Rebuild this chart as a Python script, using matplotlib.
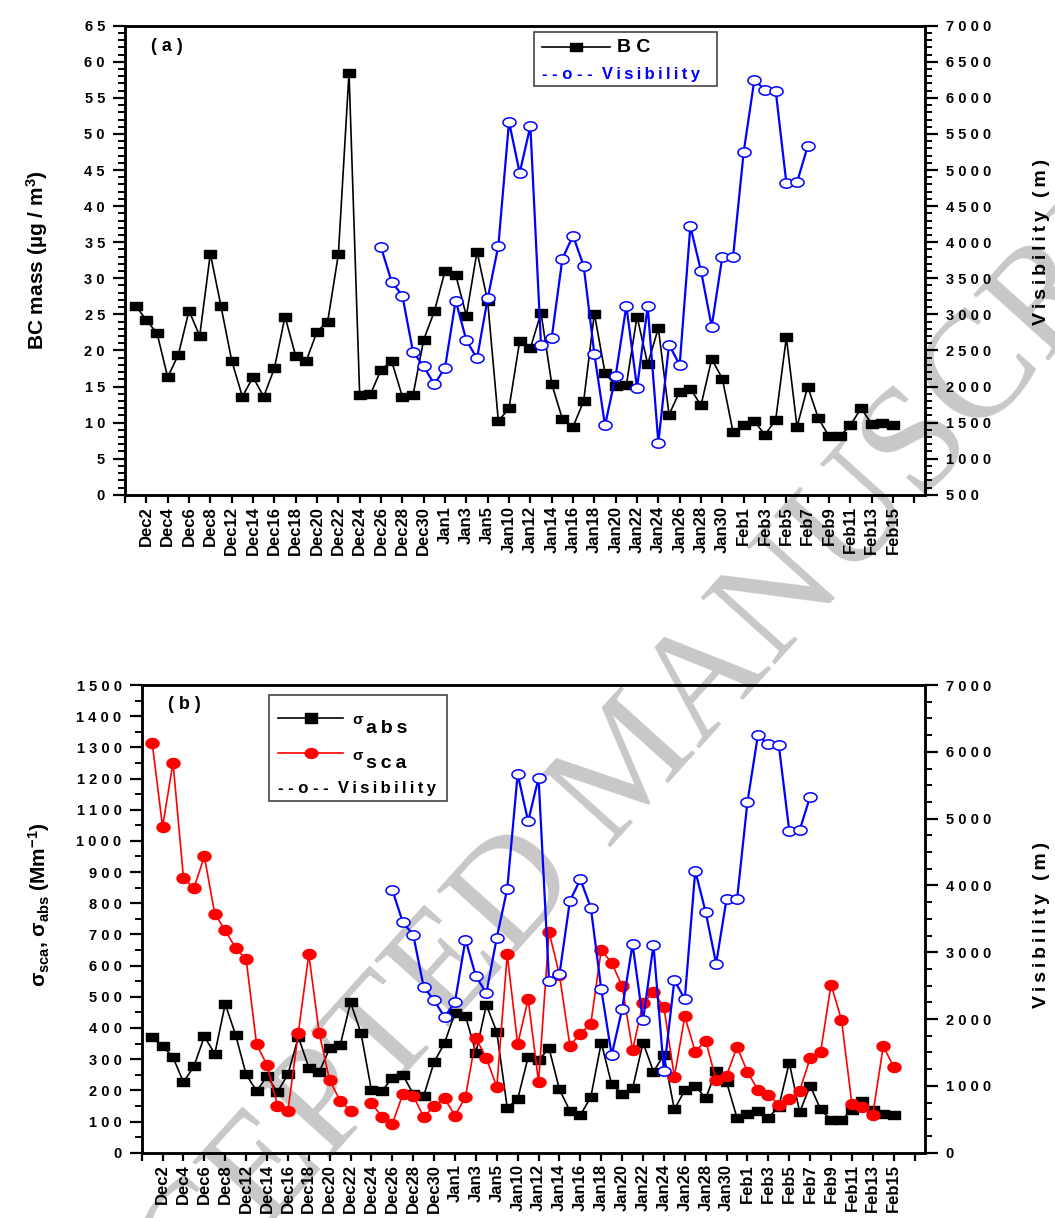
import numpy as np
import matplotlib
matplotlib.use('Agg')
import matplotlib.pyplot as plt
from matplotlib.path import Path
from matplotlib.ticker import MultipleLocator, FuncFormatter
from matplotlib.lines import Line2D
from matplotlib.patches import Rectangle

plt.rcParams['font.family'] = ['Liberation Sans', 'DejaVu Sans']
plt.rcParams['font.weight'] = 'bold'
plt.rcParams['mathtext.fontset'] = 'custom'
plt.rcParams['mathtext.rm'] = 'Liberation Sans:bold'
plt.rcParams['mathtext.it'] = 'Liberation Sans:bold'
plt.rcParams['mathtext.bf'] = 'Liberation Sans:bold'
plt.rcParams['mathtext.sf'] = 'Liberation Sans:bold'

nan = np.nan

# ---------------- data ----------------
date_labels = ['Dec2', 'Dec4', 'Dec6', 'Dec8', 'Dec12', 'Dec14', 'Dec16', 'Dec18',
               'Dec20', 'Dec22', 'Dec24', 'Dec26', 'Dec28', 'Dec30', 'Jan1', 'Jan3',
               'Jan5', 'Jan10', 'Jan12', 'Jan14', 'Jan16', 'Jan18', 'Jan20', 'Jan22',
               'Jan24', 'Jan26', 'Jan28', 'Jan30', 'Feb1', 'Feb3', 'Feb5', 'Feb7',
               'Feb9', 'Feb11', 'Feb13', 'Feb15']

bc_mass = [26.2, 24.2, 22.4, 16.3, 19.4, 25.5, 22.0, 33.4, 26.1, 18.6,
           13.6, 16.3, 13.6, 17.5, 24.7, 19.2, 18.6, 22.6, 24.0, 33.3,
           58.5, 13.8, 13.9, 17.3, 18.5, 13.6, 13.8, 21.5, 25.4, 31.0,
           30.5, 24.8, 33.7, 26.8, 10.2, 12.0, 21.3, 20.3, 25.2, 15.4,
           10.5, 9.4, 13.0, 25.1, 16.9, 15.1, 15.2, 24.7, 18.1, 23.1,
           11.1, 14.3, 14.7, 12.4, 18.8, 16.1, 8.7, 9.6, 10.2, 8.3,
           10.4, 21.8, 9.4, 15.0, 10.6, 8.1, 8.1, 9.6, 12.0, 9.8,
           10.0, 9.6]

visibility = [nan, nan, nan, nan, nan, nan, nan, nan, nan, nan,
              nan, nan, nan, nan, nan, nan, nan, nan, nan, nan,
              nan, nan, nan, 3930, 3450, 3260, 2480, 2280, 2030, 2260,
              3190, 2640, 2390, 3220, 3950, 5670, 4960, 5610, 2570, 2670,
              3770, 4090, 3670, 2450, 1460, 2150, 3120, 1980, 3110, 1220,
              2580, 2300, 4220, 3600, 2830, 3800, 3790, 5250, 6250, 6110,
              6100, 4820, 4830, 5330, nan, nan, nan, nan, nan, nan,
              nan, nan]

sigma_abs = [370, 342, 306, 226, 277, 373, 317, 477, 377, 251,
             198, 245, 195, 251, 371, 273, 259, 335, 344, 482,
             383, 200, 197, 241, 250, 188, 182, 291, 352, 449,
             439, 321, 474, 387, 144, 172, 306, 297, 335, 203,
             134, 121, 178, 353, 219, 189, 206, 353, 260, 314,
             139, 200, 215, 174, 263, 226, 112, 123, 134, 112,
             148, 289, 130, 215, 139, 105, 105, 137, 166, 137,
             125, 122]

sigma_sca = [1315, 1045, 1251, 882, 848, 951, 765, 714, 655, 621,
             348, 281, 151, 134, 385, 637, 383, 232, 167, 134,
             nan, 159, 115, 93, 187, 183, 114, 149, 174, 119,
             179, 368, 303, 211, 636, 348, 493, 227, 709, 570,
             343, 382, 414, 650, 609, 534, 329, 480, 515, 467,
             243, 437, 324, 359, 233, 247, 340, 259, 202, 186,
             154, 173, 199, 303, 322, 539, 427, 156, 146, 122,
             342, 275]

# ---------------- styling helpers ----------------
BLUE = '#0000ff'
RED = '#ff0000'
THIN = '\u2009'
rect_marker = Path([(-1.35, -1), (1.35, -1), (1.35, 1), (-1.35, 1), (-1.35, -1)],
                   [Path.MOVETO, Path.LINETO, Path.LINETO, Path.LINETO, Path.CLOSEPOLY])
th = np.linspace(0, 2 * np.pi, 60)
ell_marker = Path(np.column_stack([1.4 * np.cos(th), np.sin(th)]), closed=True)
ell_marker2 = Path(np.column_stack([1.3 * np.cos(th), np.sin(th)]), closed=True)


def spaced(v, p):
    return ' '.join(f'{v:.0f}')


def tracked(s):
    return THIN.join(s)


x = np.arange(len(bc_mass))
tick_pos = np.arange(-1, len(bc_mass) + 2, 2)
tick_lab = [''] + date_labels + ['']

fig = plt.figure(figsize=(10.55, 12.18), dpi=100)

# watermark (behind data)
fig.text(0.600, 0.370, 'ACCEPTED MANUSCRIPT', rotation=48, fontsize=110,
         family='Liberation Serif', weight='normal', color='#c8c8c8',
         ha='center', va='center', zorder=-5)


def style_axes(ax, twin):
    for a in (ax, twin):
        a.patch.set_visible(False)
        for s in a.spines.values():
            s.set_linewidth(1.8)
    ax.set_xlim(-1, 74)
    ax.set_xticks(tick_pos)
    ax.set_xticklabels(tick_lab, rotation=90, fontsize=12, fontweight='bold')
    ax.tick_params(axis='x', direction='out', length=6, width=1.6, pad=2)
    ax.tick_params(axis='y', which='major', direction='out', length=8.5, width=1.6,
                   pad=6, labelsize=10.5)
    ax.tick_params(axis='y', which='minor', direction='out', length=5, width=1.4)
    twin.tick_params(axis='y', which='major', direction='out', length=9, width=1.6,
                     pad=6, labelsize=10.5)
    twin.tick_params(axis='y', which='minor', direction='out', length=5, width=1.4)
    ax.yaxis.set_major_formatter(FuncFormatter(spaced))
    twin.yaxis.set_major_formatter(FuncFormatter(spaced))
    for lab in ax.get_yticklabels() + twin.get_yticklabels():
        lab.set_fontweight('bold')


# ---------------- panel (a) ----------------
axA = fig.add_axes([0.1185, 0.5938, 0.7583, 0.3851])
axA2 = axA.twinx()
style_axes(axA, axA2)
axA.set_ylim(0, 65)
axA.yaxis.set_major_locator(MultipleLocator(5))
axA.yaxis.set_minor_locator(MultipleLocator(1))
axA2.set_ylim(500, 7000)
axA2.yaxis.set_major_locator(MultipleLocator(500))
axA2.yaxis.set_minor_locator(MultipleLocator(100))

axA.plot(x, bc_mass, color='black', lw=1.2, marker=rect_marker, ms=8.6,
         mfc='black', mec='black', zorder=3)
axA2.plot(x, visibility, color=BLUE, lw=1.6, marker=ell_marker, ms=9.4,
          mfc='white', mec=BLUE, mew=1.1, zorder=3)

axA.set_ylabel('BC mass (µg / m$^{3}$)', fontsize=15, fontweight='bold')
axA.yaxis.set_label_coords(-0.094, 0.5)
axA2.set_ylabel(tracked('Visibility (m)'), fontsize=14, fontweight='bold')
axA2.yaxis.set_label_coords(1.135, 0.539)

axA.text(0.033, 0.955, '( a )', transform=axA.transAxes, fontsize=13,
         fontweight='bold', va='center', ha='left')

# legend (a)
axA.add_patch(Rectangle((0.511, 0.872), 0.229, 0.115, transform=axA.transAxes,
                        fill=False, ec='#444444', lw=1.2, zorder=5))
axA.add_line(Line2D([0.5216, 0.606], [0.954, 0.954], transform=axA.transAxes,
                    color='black', lw=1.2, zorder=6))
axA.add_line(Line2D([0.564], [0.954], transform=axA.transAxes, marker=rect_marker,
                    ms=8.6, color='black', zorder=6))
axA.text(0.6146, 0.954, 'B C', transform=axA.transAxes, fontsize=14,
         fontweight='bold', va='center', ha='left', zorder=6)
axA.text(0.521, 0.897, '- - o - -  ' + tracked('Visibility'), transform=axA.transAxes,
         fontsize=12, fontweight='bold', color=BLUE, va='center', ha='left', zorder=6)

# ---------------- panel (b) ----------------
axB = fig.add_axes([0.1343, 0.0536, 0.7425, 0.3840])
axB2 = axB.twinx()
style_axes(axB, axB2)
axB.set_ylim(0, 1500)
axB.yaxis.set_major_locator(MultipleLocator(100))
axB.yaxis.set_minor_locator(MultipleLocator(50))
axB2.set_ylim(0, 7000)
axB2.yaxis.set_major_locator(MultipleLocator(1000))
axB2.yaxis.set_minor_locator(MultipleLocator(250))

axB.plot(x, sigma_abs, color='black', lw=1.2, marker=rect_marker, ms=8.6,
         mfc='black', mec='black', zorder=3)
axB.plot(x, sigma_sca, color=RED, lw=1.2, marker=ell_marker2, ms=9.4,
         mfc=RED, mec=RED, zorder=4)
axB2.plot(x, visibility, color=BLUE, lw=1.6, marker=ell_marker, ms=9.4,
          mfc='white', mec=BLUE, mew=1.1, zorder=3)

axB.set_ylabel(r'$\sigma_{sca}$, $\sigma_{abs}$ (Mm$^{-1}$)', fontsize=15,
               fontweight='bold')
axB.yaxis.set_label_coords(-0.1145, 0.53)
axB2.set_ylabel(tracked('Visibility (m)'), fontsize=14, fontweight='bold')
axB2.yaxis.set_label_coords(1.138, 0.487)

axB.text(0.034, 0.959, '( b )', transform=axB.transAxes, fontsize=13,
         fontweight='bold', va='center', ha='left')

# legend (b)
axB.add_patch(Rectangle((0.163, 0.7526), 0.227, 0.226, transform=axB.transAxes,
                        fill=False, ec='#444444', lw=1.2, zorder=5))
for yy, col, mk in [(0.930, 'black', rect_marker), (0.855, RED, ell_marker2)]:
    axB.add_line(Line2D([0.174, 0.257], [yy, yy], transform=axB.transAxes,
                        color=col, lw=1.2, zorder=6))
    axB.add_line(Line2D([0.2158], [yy], transform=axB.transAxes, marker=mk,
                        ms=9.2, color=col, zorder=6))
axB.text(0.2685, 0.925, 'σ', transform=axB.transAxes, fontsize=11,
         fontweight='bold', va='center', ha='left', zorder=6)
axB.text(0.2864, 0.906, tracked('abs'), transform=axB.transAxes, fontsize=14,
         fontweight='bold', va='center', ha='left', zorder=6)
axB.text(0.2685, 0.849, 'σ', transform=axB.transAxes, fontsize=11,
         fontweight='bold', va='center', ha='left', zorder=6)
axB.text(0.2864, 0.832, tracked('sca'), transform=axB.transAxes, fontsize=14,
         fontweight='bold', va='center', ha='left', zorder=6)
axB.text(0.174, 0.778, '- - o - -  ' + tracked('Visibility'), transform=axB.transAxes,
         fontsize=12, fontweight='bold', color='black', va='center', ha='left',
         zorder=6)

fig.savefig('out.png', dpi=100)
